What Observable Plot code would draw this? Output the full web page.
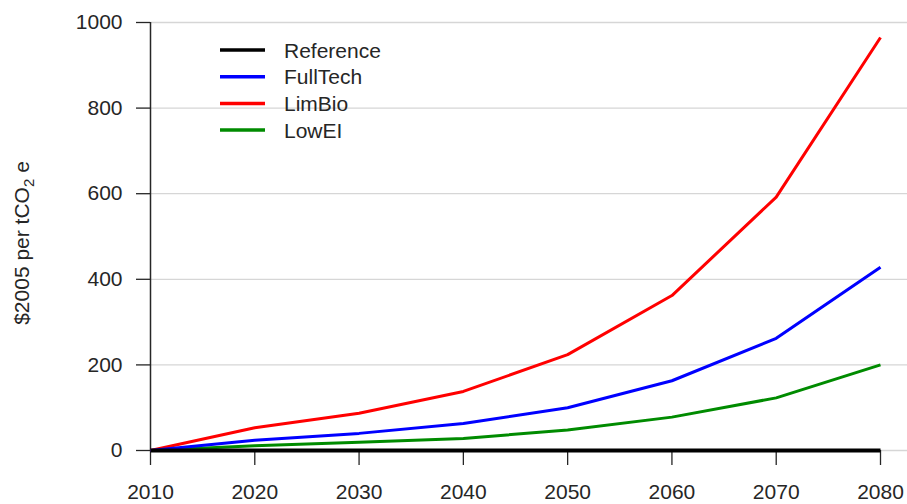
<!DOCTYPE html>
<html>
<head>
<meta charset="utf-8">
<script src="https://cdn.jsdelivr.net/npm/d3@7"></script>
<script src="https://cdn.jsdelivr.net/npm/@observablehq/plot@0.6"></script>
<style>
  html, body { margin: 0; padding: 0; background: #fff; }
  #chart svg { display: block; }
</style>
</head>
<body>
<div id="chart"></div>
<script>
// Carbon price paths by scenario, $2005 per tCO2e
const years     = [2010, 2020, 2030, 2040, 2050, 2060, 2070, 2080];
const reference = [0, 0, 0, 0, 0, 0, 0, 0];
const fullTech  = [0, 24, 40, 63, 100, 163, 262, 428];
const limBio    = [0, 53, 87, 138, 224, 362, 592, 965];
const lowEI     = [0, 11, 19, 28, 48, 78, 123, 200];

const scenarios = ["Reference", "FullTech", "LimBio", "LowEI"];
const colors    = ["#000000", "#0000ff", "#ff0000", "#008b00"];
const widths    = [4, 3, 3, 3];
const seriesValues = [reference, fullTech, limBio, lowEI];

const yTicks = [0, 200, 400, 600, 800, 1000];
const xTicks = [2010, 2020, 2030, 2040, 2050, 2060, 2070, 2080];

const rows = scenarios.flatMap((s, i) =>
  years.map((yr, j) => ({scenario: s, year: yr, value: seriesValues[i][j]}))
);

const font = "'Liberation Sans', Arial, sans-serif";
const ink = "#262626";
const fs = 21;

// Draw Reference last so it sits on top along the zero line
const drawOrder = ["LowEI", "LimBio", "FullTech", "Reference"];
const lineMarks = drawOrder.map(s => {
  const i = scenarios.indexOf(s);
  return Plot.line(rows.filter(d => d.scenario === s), {
    x: "year", y: "value",
    stroke: colors[i], strokeWidth: widths[i],
    strokeLinejoin: "round", strokeLinecap: "butt"
  });
});

const plot = Plot.plot({
  width: 907,
  height: 504,
  marginLeft: 150,
  marginRight: 0,
  marginTop: 22,
  marginBottom: 54,
  style: {fontFamily: font, fontSize: fs + "px", color: ink, background: "#fff"},
  x: {domain: [2010, 2080], range: [150, 880]},
  y: {domain: [0, 1000]},
  marks: [
    Plot.gridY(yTicks, {stroke: "#d6d6d6", strokeOpacity: 1, strokeWidth: 1.3}),
    Plot.axisY(yTicks, {tickSize: 14, tickPadding: 14, label: null, tickFormat: d => String(d), stroke: ink, strokeWidth: 1.3, fill: ink, fontSize: fs}),
    Plot.ruleX([2010], {y1: 0, y2: 1000, stroke: ink, strokeWidth: 1.5}),
    Plot.axisX(xTicks, {tickSize: 15, tickPadding: 19, label: null, tickFormat: d => String(d), stroke: ink, strokeWidth: 1.3, fill: ink, fontSize: fs}),
    ...lineMarks
  ]
});

document.getElementById("chart").appendChild(plot);

// Legend and y-axis title drawn on top of the plot
const svg = d3.select(plot);
const legend = svg.append("g")
  .attr("font-family", font).attr("font-size", fs).attr("fill", ink)
  .attr("text-anchor", "start");
scenarios.forEach((s, i) => {
  const y = 50 + i * 26.7;
  legend.append("line")
    .attr("x1", 220).attr("x2", 265).attr("y1", y).attr("y2", y)
    .attr("stroke", colors[i]).attr("stroke-width", 3.5);
  legend.append("text")
    .attr("x", 284).attr("y", y).attr("dy", "0.36em").text(s);
});

const title = svg.append("text")
  .attr("transform", "translate(29,243) rotate(-90)")
  .attr("text-anchor", "middle")
  .attr("font-family", font).attr("font-size", fs).attr("fill", ink);
title.append("tspan").text("$2005 per tCO");
title.append("tspan").attr("font-size", 15).attr("dy", 5).text("2");
title.append("tspan").attr("dy", -5).text(" e");
</script>
</body>
</html>
